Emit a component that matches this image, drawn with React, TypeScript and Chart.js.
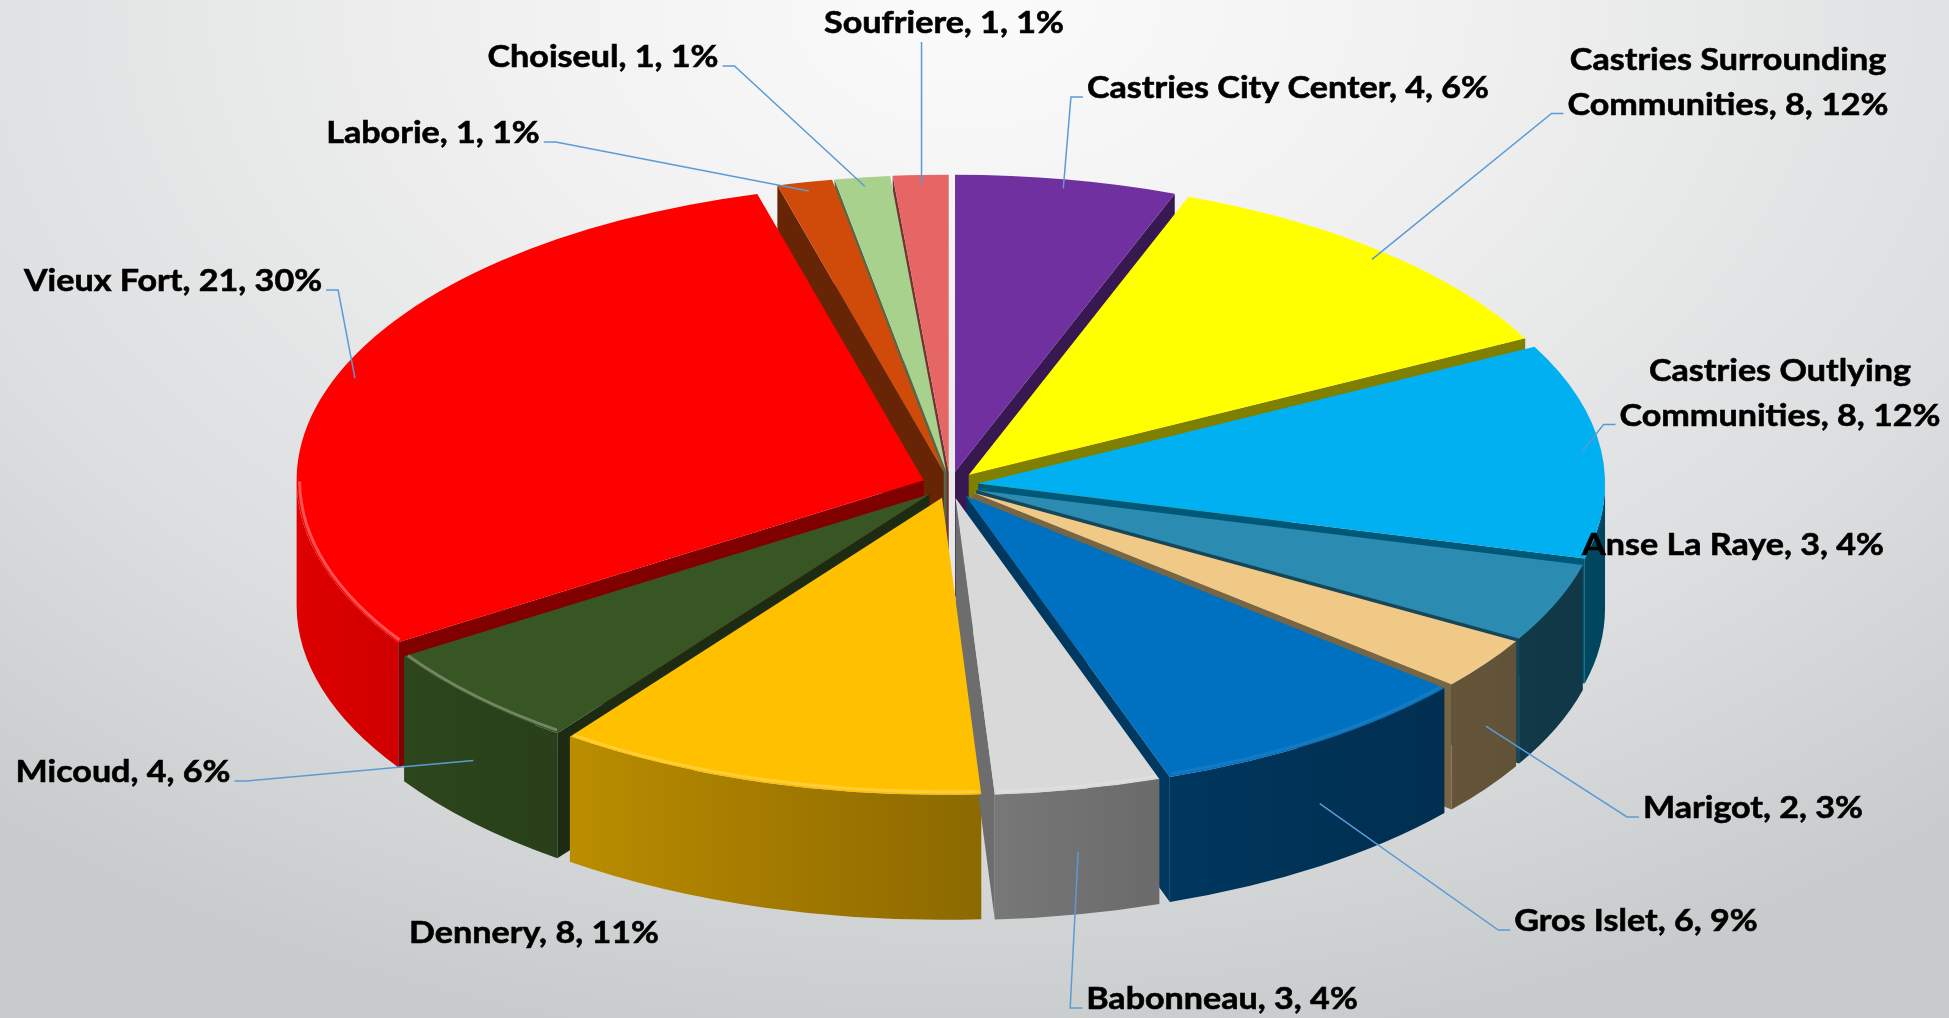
import React, { useEffect, useRef } from 'react';
import { Chart, registerables } from 'chart.js';

Chart.register(...registerables);

// ---------- data ----------
const CATEGORIES = [
  'Castries City Center',
  'Castries Surrounding Communities',
  'Castries Outlying Communities',
  'Anse La Raye',
  'Marigot',
  'Gros Islet',
  'Babonneau',
  'Dennery',
  'Micoud',
  'Vieux Fort',
  'Laborie',
  'Choiseul',
  'Soufriere',
];
const VALUES = [4, 8.2, 8.2, 3, 2, 6, 3, 7.8, 4, 21, 1, 1, 1];

// ---------- styles / layout ----------
const COLORS = [
  '#7030A0', '#FFFF00', '#00B0F0', '#2B8BB0', '#F0C987', '#0070C0', '#D9D9D9',
  '#FFC000', '#375623', '#FF0000', '#D04A0A', '#A9D18E', '#E66666',
];
const LABEL_POS: [number, number][] = [
  [1288, 87], [1728, 81], [1780, 392], [1733, 544], [1753, 807], [1636, 920], [1222, 998],
  [534, 932], [123, 771], [173, 280], [433, 132], [603, 56], [944, 22],
];
const SHOW_LEADER = [true, true, true, false, true, true, true, false, true, true, true, true, true];

const W = 1949;
const H = 1018;
const SX = 2.09;
const SY = 0.99;
const EXPLODE = 13.5;
const DEPTH = 125;
const FONT_SIZE = 31;
const FONT_HSCALE = 1.1;
const FONT = `bold ${FONT_SIZE}px Lato`;
const LINE_H = 45;
const LEADER_COLOR = '#5B9BD5';

function rgb(hex: string): number[] {
  const n = parseInt(hex.slice(1), 16);
  return [(n >> 16) & 255, (n >> 8) & 255, n & 255];
}
function shade(hex: string, f: number): string {
  const [r, g, b] = rgb(hex);
  return `rgb(${Math.round(r * f)},${Math.round(g * f)},${Math.round(b * f)})`;
}
function tint(hex: string, t: number, a: number): string {
  const [r, g, b] = rgb(hex);
  const m = (c: number) => Math.round(c + (255 - c) * t);
  return `rgba(${m(r)},${m(g)},${m(b)},${a})`;
}
function wallLight(a: number): number {
  return 0.4 + 0.47 * Math.pow((1 - Math.cos(a)) / 2, 1.5);
}

type Geo = { s: number; e: number; m: number; ox: number; oy: number; r: number; color: string };

function proj(cx: number, cy: number, x: number, y: number, h: number): [number, number] {
  return [cx + (x - cx) * SX, cy + (y - cy) * SY + h];
}

const pie3d = {
  id: 'pie3d',
  beforeDatasetsDraw(chart: any) {
    const ctx: CanvasRenderingContext2D = chart.ctx;
    const arcs = chart.getDatasetMeta(0).data as any[];
    if (!arcs.length) return;
    const cx = arcs[0].x;
    const cy = arcs[0].y;
    const geo: Geo[] = arcs.map((a, i) => {
      const s = a.startAngle;
      const e = a.endAngle;
      const m = (s + e) / 2;
      return {
        s, e, m,
        ox: a.x + Math.cos(m) * EXPLODE,
        oy: a.y + Math.sin(m) * EXPLODE,
        r: a.outerRadius,
        color: COLORS[i],
      };
    });
    chart.$pie3d = { cx, cy, geo };

    const order = [...geo].sort((a, b) => Math.sin(a.m) - Math.sin(b.m));
    for (const g of order) {
      // radial cut faces
      const faces: number[] = [];
      if (Math.cos(g.s) < 0) faces.push(g.s);
      if (Math.cos(g.e) > 0) faces.push(g.e);
      for (const a of faces) {
        const p1 = proj(cx, cy, g.ox, g.oy, 0);
        const p2 = proj(cx, cy, g.ox + g.r * Math.cos(a), g.oy + g.r * Math.sin(a), 0);
        const p3 = proj(cx, cy, g.ox + g.r * Math.cos(a), g.oy + g.r * Math.sin(a), DEPTH);
        const p4 = proj(cx, cy, g.ox, g.oy, DEPTH);
        ctx.beginPath();
        ctx.moveTo(p1[0], p1[1]);
        ctx.lineTo(p2[0], p2[1]);
        ctx.lineTo(p3[0], p3[1]);
        ctx.lineTo(p4[0], p4[1]);
        ctx.closePath();
        ctx.fillStyle = shade(g.color, 0.5);
        ctx.fill();
      }
      // outer wall (front half only)
      const ws = Math.max(g.s, 0);
      const we = Math.min(g.e, Math.PI);
      if (we > ws) {
        const [ex, ey] = proj(cx, cy, g.ox, g.oy, 0);
        const rx = g.r * SX;
        const ry = g.r * SY;
        ctx.beginPath();
        ctx.ellipse(ex, ey, rx, ry, 0, ws, we, false);
        ctx.ellipse(ex, ey + DEPTH, rx, ry, 0, we, ws, true);
        ctx.closePath();
        const x1 = ex + rx * Math.cos(ws);
        const x2 = ex + rx * Math.cos(we);
        if (Math.abs(x2 - x1) < 1) {
          ctx.fillStyle = shade(g.color, wallLight((ws + we) / 2));
        } else {
          const grad = ctx.createLinearGradient(x1, 0, x2, 0);
          const N = 16;
          for (let k = 0; k <= N; k++) {
            const t = ws + ((we - ws) * k) / N;
            const x = ex + rx * Math.cos(t);
            const pos = Math.min(1, Math.max(0, (x - x1) / (x2 - x1)));
            grad.addColorStop(pos, shade(g.color, wallLight(t)));
          }
          ctx.fillStyle = grad;
        }
        ctx.fill();
      }
    }

    // tops are drawn by Chart.js itself, squashed into the tilted plane
    ctx.save();
    ctx.translate(cx, cy);
    ctx.scale(SX, SY);
    ctx.translate(-cx, -cy);
    arcs.forEach((a, i) => {
      a.$px = a.x;
      a.$py = a.y;
      a.x = geo[i].ox;
      a.y = geo[i].oy;
    });
  },
  afterDatasetsDraw(chart: any) {
    const ctx: CanvasRenderingContext2D = chart.ctx;
    const arcs = chart.getDatasetMeta(0).data as any[];
    if (!arcs.length || !chart.$pie3d) return;
    arcs.forEach((a) => {
      a.x = a.$px;
      a.y = a.$py;
    });
    ctx.restore();
    const { cx, cy, geo } = chart.$pie3d as { cx: number; cy: number; geo: Geo[] };

    // bevel highlight along the front rims
    for (const g of geo) {
      const ws = Math.max(g.s, 0);
      const we = Math.min(g.e, Math.PI);
      if (we <= ws) continue;
      const [ex, ey] = proj(cx, cy, g.ox, g.oy, 0);
      const alpha = 0.75 * (1 - Math.cos(g.m)) / 2;
      ctx.beginPath();
      ctx.ellipse(ex, ey, g.r * SX - 3, g.r * SY - 3, 0, ws + 0.004, we - 0.004, false);
      ctx.strokeStyle = tint(g.color, 0.45, alpha);
      ctx.lineWidth = 3;
      ctx.stroke();
    }

    // labels
    const total = VALUES.reduce((a, b) => a + b, 0);
    ctx.font = FONT;
    ctx.textAlign = 'center';
    ctx.textBaseline = 'alphabetic';
    geo.forEach((g, i) => {
      const v = VALUES[i];
      const tail = `, ${Math.round(v)}, ${Math.round((v / total) * 100)}%`;
      let lines = [CATEGORIES[i] + tail];
      if (ctx.measureText(lines[0]).width * FONT_HSCALE > 480) {
        const words = CATEGORIES[i].split(' ');
        lines = [words.slice(0, -1).join(' '), words[words.length - 1] + tail];
      }
      const [lx, ly] = LABEL_POS[i];
      const n = lines.length;
      const centers = lines.map((_, k) => ly + (k - (n - 1) / 2) * LINE_H);
      const maxW = Math.max(...lines.map((l) => ctx.measureText(l).width)) * FONT_HSCALE;
      const left = lx - maxW / 2;
      const right = lx + maxW / 2;
      const top = centers[0] - 14;
      const bottom = centers[n - 1] + 16;

      if (SHOW_LEADER[i]) {
        const front = Math.sin(g.m) > 0.2;
        const k = front ? 1 : 0.97;
        const h = front ? DEPTH * 0.5 : 0;
        const A = proj(cx, cy, g.ox + g.r * k * Math.cos(g.m), g.oy + g.r * k * Math.sin(g.m), h);
        ctx.beginPath();
        if (A[0] >= left && A[0] <= right) {
          if (A[1] > bottom) {
            ctx.moveTo(A[0], bottom + 4);
          } else {
            ctx.moveTo(A[0], top - 6);
          }
          ctx.lineTo(A[0], A[1]);
        } else {
          const yy = centers[n - 1] + 10;
          if (A[0] > right) {
            ctx.moveTo(right + 4, yy);
            ctx.lineTo(right + 16, yy);
          } else {
            ctx.moveTo(left - 4, yy);
            ctx.lineTo(left - 16, yy);
          }
          ctx.lineTo(A[0], A[1]);
        }
        ctx.strokeStyle = LEADER_COLOR;
        ctx.lineWidth = 1.5;
        ctx.stroke();
      }

      ctx.fillStyle = '#000000';
      ctx.strokeStyle = '#000000';
      ctx.lineWidth = 0.6;
      lines.forEach((l, k) => {
        ctx.save();
        ctx.translate(lx, centers[k] + FONT_SIZE * 0.36);
        ctx.scale(FONT_HSCALE, 1);
        ctx.fillText(l, 0, 0);
        ctx.strokeText(l, 0, 0);
        ctx.restore();
      });
    });
  },
};

export default function App() {
  const ref = useRef<HTMLCanvasElement>(null);
  useEffect(() => {
    const canvas = ref.current;
    if (!canvas) return;
    const chart = new Chart(canvas, {
      type: 'pie',
      data: {
        labels: CATEGORIES,
        datasets: [
          {
            data: VALUES,
            backgroundColor: COLORS,
            borderWidth: 0,
            hoverOffset: 0,
            clip: false as any,
          } as any,
        ],
      },
      options: {
        responsive: false,
        animation: false,
        devicePixelRatio: 1,
        events: [],
        layout: { padding: { left: 650, right: 699, top: 185, bottom: 233 } },
        plugins: { legend: { display: false }, tooltip: { enabled: false } },
      },
      plugins: [pie3d as any],
    });
    return () => chart.destroy();
  }, []);
  return (
    <div
      style={{
        position: 'fixed',
        left: 0,
        top: 0,
        width: W,
        height: H,
        overflow: 'hidden',
        background:
          'radial-gradient(ellipse 80% 105% at 50% 0%, #fbfbfb 0%, #f1f1f1 30%, #dcdedf 70%, #c8cbcc 100%)',
      }}
    >
      <canvas ref={ref} width={W} height={H} style={{ display: 'block', width: W, height: H }} />
    </div>
  );
}
